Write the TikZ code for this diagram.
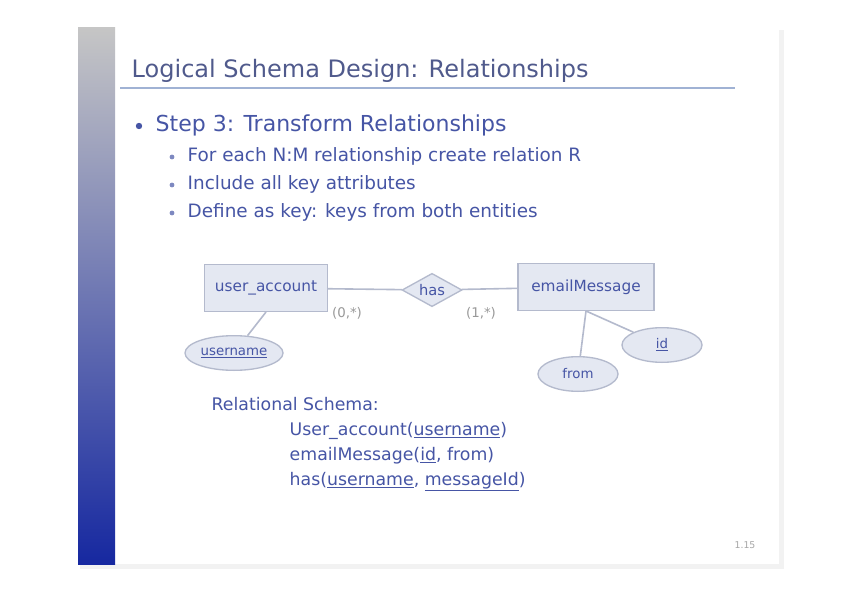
\documentclass[tikz,border=0pt]{standalone}
\usepackage{fontspec}
\setmainfont{DejaVu Sans}
\usetikzlibrary{shapes.geometric,positioning}
\definecolor{txtblue}{RGB}{70,85,165}
\definecolor{titlecol}{RGB}{80,90,140}
\definecolor{rulecol}{RGB}{160,178,212}
\definecolor{boxfill}{RGB}{228,232,242}
\definecolor{boxline}{RGB}{180,186,205}
\definecolor{barbot}{RGB}{22,40,160}

\begin{document}
\begin{tikzpicture}[
    x=0.75pt, y=-0.75pt,
    ttl/.style={anchor=base west, text=titlecol, font=\fontsize{18}{20}\selectfont},
    lvlone/.style={anchor=base west, text=txtblue, font=\fontsize{16.5}{18}\selectfont},
    lvltwo/.style={anchor=base west, text=txtblue, font=\fontsize{13.8}{15}\selectfont},
    entity/.style={rectangle, draw=boxline, fill=boxfill, line width=1pt, minimum width=92pt, minimum height=35pt, text=txtblue, font=\fontsize{11.5}{13}\selectfont},
    rel/.style={diamond, draw=boxline, fill=boxfill, line width=1pt, aspect=1.8, inner sep=1pt, minimum width=45pt, minimum height=25pt, text=txtblue, font=\fontsize{11}{13}\selectfont},
    attr/.style={ellipse, draw=boxline, fill=boxfill, line width=1pt, minimum width=60pt, minimum height=26pt, inner sep=1pt, text=txtblue, font=\fontsize{10}{12}\selectfont},
    card/.style={text=gray!80, font=\fontsize{10}{12}\selectfont},
    link/.style={draw=boxline, line width=1.2pt},
    schema/.style={anchor=base west, text=txtblue, font=\fontsize{13}{15}\selectfont}
]
\useasboundingbox (0,0) rectangle (842,595);

% slide and shadow
\fill[gray!10] (80,30) rectangle (784,569);
\fill[white] (75,25) rectangle (779,564);

% side bar
\shade[top color=gray!45, bottom color=barbot] (78,28) rectangle (115,564);

% title
\node[ttl] (title) at (127,78) {Logical Schema Design: Relationships};
\draw[rulecol, line width=2.2pt] (120,88) -- (735,88);

% bullets
\fill[txtblue] (139,126) circle (3.2);
\node[lvlone] (step) at (151,132) {Step 3: Transform Relationships};
\fill[txtblue!70] (172,157) circle (2.4);
\node[lvltwo] (each) at (183,162) {For each N:M relationship create relation R};
\fill[txtblue!70] (172,185) circle (2.4);
\node[lvltwo] (keys) at (183,190) {Include all key attributes};
\fill[txtblue!70] (172,213) circle (2.4);
\node[lvltwo] (both) at (183,218) {Define as key: keys from both entities};

% ER diagram
\node[entity] (ua) at (266,288) {user\_account};
\node[rel] (has) at (432,290) {has};
\node[entity, minimum width=102pt] (em) at (586,287) {emailMessage};
\draw[link] (ua) -- (has) -- (em);
\node[card] (cua) at (347,313) {(0,*)};
\node[card] (cem) at (481,313) {(1,*)};

\node[attr, minimum width=70pt] (uname) at (234,353) {\underline{username}};
\node[attr] (from) at (578,374) {from};
\node[attr] (id) at (662,345) {\underline{id}};
\draw[link] (ua.south) -- (uname);
\draw[link] (em.south) -- (from);
\draw[link] (em.south) -- (id);

% relational schema
\node[schema] (rs) at (207,410) {Relational Schema:};
\node[schema] (s1) at (285,435) {User\_account(\underline{username})};
\node[schema] (s2) at (285,460) {emailMessage(\underline{id}, from)};
\node[schema] (s3) at (285,485) {has(\underline{username}, \underline{messageId})};

% page number
\node[text=gray!70, font=\fontsize{7}{8}\selectfont] (pg) at (745,545) {1.15};
\end{tikzpicture}
\end{document}
